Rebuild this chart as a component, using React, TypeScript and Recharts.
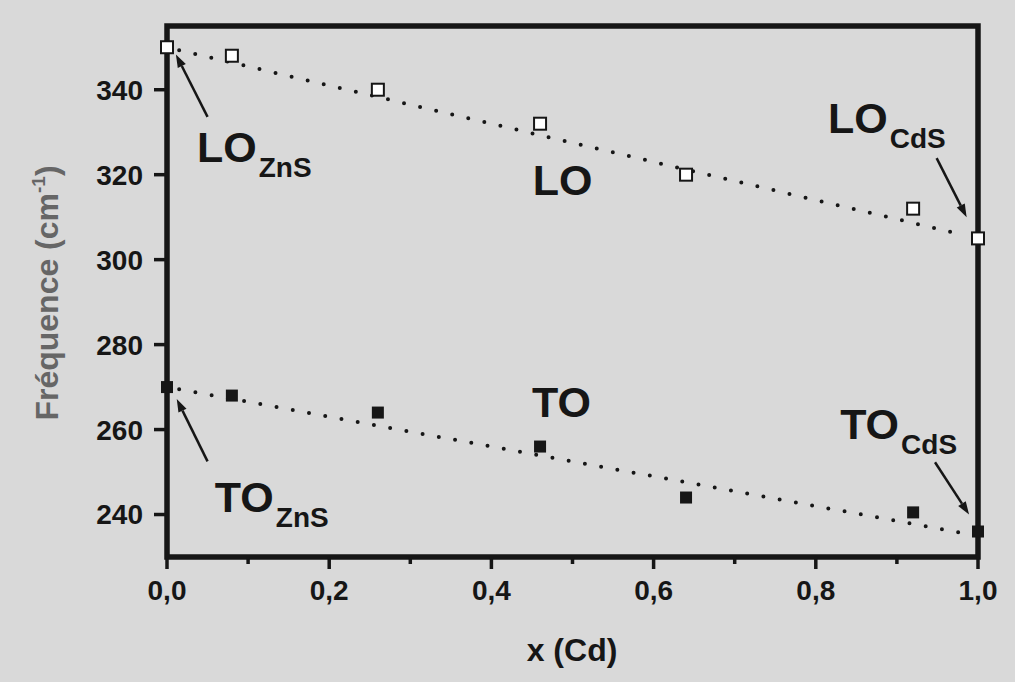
import {
  ComposedChart,
  Line,
  Scatter,
  XAxis,
  YAxis,
  ReferenceArea,
  ReferenceLine,
  ReferenceDot,
} from 'recharts';

// composition x (Cd) et fréquences des modes LO / TO (cm-1)
const xCd = [0, 0.08, 0.26, 0.46, 0.64, 0.92, 1.0];
const loFreq = [350, 348, 340, 332, 320, 312, 305];
const toFreq = [270, 268, 264, 256, 244, 240.5, 236];

// droites d'ajustement (extrémités)
const fitX = [0.015, 0.985];
const loFitY = [349.3, 305.7];
const toFitY = [269.5, 235.5];

const xTicks = [0, 0.1, 0.2, 0.3, 0.4, 0.5, 0.6, 0.7, 0.8, 0.9, 1.0];
const yTicks = [240, 260, 280, 300, 320, 340];

// annotations : texte + indice, point d'ancrage (x, fréquence)
const labels = [
  { main: 'LO', sub: 'ZnS', x: 0.037, y: 323.0 },
  { main: 'TO', sub: 'ZnS', x: 0.059, y: 240.5 },
  { main: 'LO', sub: '', x: 0.451, y: 315.2 },
  { main: 'TO', sub: '', x: 0.45, y: 262.9 },
  { main: 'LO', sub: 'CdS', x: 0.815, y: 329.8 },
  { main: 'TO', sub: 'CdS', x: 0.83, y: 257.7 },
];

// flèches : de (x1, y1) vers (x2, y2)
const arrows = [
  { x1: 0.05, y1: 333.6, x2: 0.011, y2: 348.3 },
  { x1: 0.05, y1: 252.5, x2: 0.012, y2: 267.2 },
  { x1: 0.949, y1: 323.9, x2: 0.986, y2: 310.0 },
  { x1: 0.947, y1: 252.3, x2: 0.989, y2: 240.0 },
];

const loData = xCd.map((x, i) => ({ x, y: loFreq[i] }));
const toData = xCd.map((x, i) => ({ x, y: toFreq[i] }));
const loFit = fitX.map((x, i) => ({ x, y: loFitY[i] }));
const toFit = fitX.map((x, i) => ({ x, y: toFitY[i] }));

const FONT = '"Liberation Sans", Arial, Helvetica, sans-serif';
const INK = '#161616';

const OpenSquare = (p: any) => (
  <rect x={p.cx - 6} y={p.cy - 6} width={12} height={12} fill="#fff" stroke={INK} strokeWidth={2} />
);

const FilledSquare = (p: any) => (
  <rect x={p.cx - 6} y={p.cy - 6} width={12} height={12} fill={INK} />
);

const XTick = (p: any) => {
  const v = p.payload.value;
  const major = Math.round(v * 10) % 2 === 0;
  return (
    <g>
      <line x1={p.x} y1={p.y} x2={p.x} y2={p.y + (major ? 12 : 7)} stroke={INK} strokeWidth={3.5} />
      {major && (
        <text x={p.x} y={p.y + 43} textAnchor="middle" fontFamily={FONT} fontWeight="bold" fontSize={28} fill={INK}>
          {v.toFixed(1).replace('.', ',')}
        </text>
      )}
    </g>
  );
};

const Arrow = (p: any) => {
  const ang = Math.atan2(p.y2 - p.y1, p.x2 - p.x1);
  const len = 13;
  const w = 4.5;
  const bx = p.x2 - len * Math.cos(ang);
  const by = p.y2 - len * Math.sin(ang);
  const nx = -Math.sin(ang) * w;
  const ny = Math.cos(ang) * w;
  return (
    <g>
      <line x1={p.x1} y1={p.y1} x2={bx} y2={by} stroke={INK} strokeWidth={2.5} />
      <polygon points={`${p.x2},${p.y2} ${bx + nx},${by + ny} ${bx - nx},${by - ny}`} fill={INK} />
    </g>
  );
};

const makeLabel = (main: string, sub: string) => (p: any) => (
  <text x={p.cx} y={p.cy} fontFamily={FONT} fontWeight="bold" fontSize={43} fill={INK}>
    {main}
    {sub && (
      <tspan fontSize={28} dx={2} dy={15}>
        {sub}
      </tspan>
    )}
  </text>
);

export default function App() {
  return (
    <div style={{ position: 'absolute', left: 0, top: 0, width: 1015, height: 682, background: '#d9d9d9' }}>
      <ComposedChart width={1015} height={682} margin={{ top: 26, right: 37, left: 107, bottom: 95 }}>
        <XAxis
          dataKey="x"
          type="number"
          domain={[0, 1]}
          ticks={xTicks}
          interval={0}
          axisLine={false}
          tickLine={false}
          tickSize={0}
          tickMargin={0}
          height={30}
          tick={<XTick />}
          label={() => (
            <text x={572} y={661} textAnchor="middle" fontFamily={FONT} fontWeight="bold" fontSize={32} fill={INK}>
              x (Cd)
            </text>
          )}
        />
        <YAxis
          dataKey="y"
          type="number"
          domain={[230, 355]}
          ticks={yTicks}
          interval={0}
          width={60}
          axisLine={false}
          tickSize={13}
          tickMargin={11}
          tickLine={{ stroke: INK, strokeWidth: 3.5 }}
          tick={{ fontFamily: FONT, fontWeight: 'bold', fontSize: 28, fill: INK }}
          label={() => (
            <text
              x={58}
              y={293}
              transform="rotate(-90 58 293)"
              textAnchor="middle"
              fontFamily={FONT}
              fontWeight="bold"
              fontSize={32}
              fill="#666"
            >
              Fréquence (cm
              <tspan fontSize={19} dy={-13}>
                -1
              </tspan>
              <tspan dy={13}>)</tspan>
            </text>
          )}
        />
        <ReferenceArea
          x1={0}
          x2={1}
          y1={230}
          y2={355}
          fill="none"
          stroke={INK}
          strokeWidth={5.5}
          ifOverflow="visible"
        />
        <Line
          data={loFit}
          dataKey="y"
          stroke={INK}
          strokeWidth={4}
          strokeDasharray="0 16.5"
          strokeLinecap="round"
          dot={false}
          activeDot={false}
          isAnimationActive={false}
        />
        <Line
          data={toFit}
          dataKey="y"
          stroke={INK}
          strokeWidth={4}
          strokeDasharray="0 16.5"
          strokeLinecap="round"
          dot={false}
          activeDot={false}
          isAnimationActive={false}
        />
        {arrows.map((a, i) => (
          <ReferenceLine
            key={'a' + i}
            segment={[
              { x: a.x1, y: a.y1 },
              { x: a.x2, y: a.y2 },
            ]}
            shape={Arrow}
            ifOverflow="visible"
          />
        ))}
        {labels.map((l, i) => (
          <ReferenceDot key={'l' + i} x={l.x} y={l.y} r={1} ifOverflow="visible" shape={makeLabel(l.main, l.sub)} />
        ))}
        <Scatter data={loData} dataKey="y" shape={OpenSquare} isAnimationActive={false} />
        <Scatter data={toData} dataKey="y" shape={FilledSquare} isAnimationActive={false} />
      </ComposedChart>
    </div>
  );
}
